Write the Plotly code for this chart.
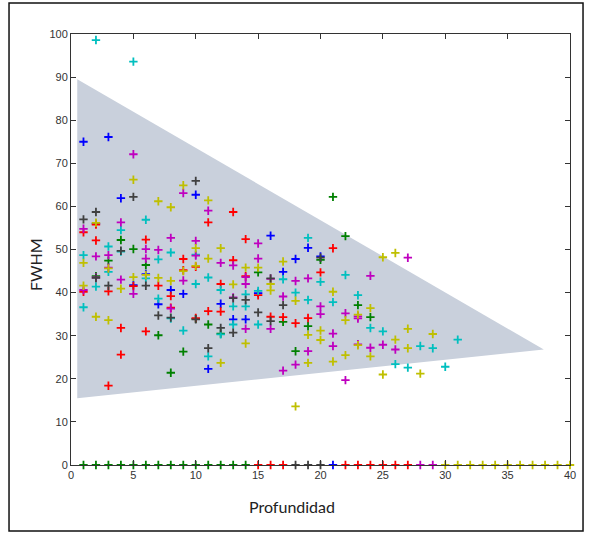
import plotly.graph_objects as go

# ---------------- data ----------------
# shaded region (Profundidad, FWHM)
region_x = [0.5, 37.9, 0.5]
region_y = [89.5, 26.8, 15.5]

blue_x = [1, 3, 2, 4, 5, 6, 7, 8, 9, 10, 11, 12, 13, 14, 15, 16, 17, 18, 19, 20]
blue_y = [75.0, 76.1, 56.0, 61.9, 41.7, 44.3, 37.3, 40.6, 39.7, 62.7, 22.3, 37.4, 33.8, 33.8, 39.9, 53.2, 44.8, 47.8, 50.4, 48.4]

green_x = [2, 3, 4, 5, 6, 7, 8, 9, 10, 11, 12, 15, 17, 18, 19, 20, 21, 22, 23, 24]
green_y = [43.8, 47.4, 52.2, 50.1, 46.4, 30.1, 21.4, 26.3, 33.9, 32.6, 30.5, 44.7, 33.2, 26.4, 32.2, 47.6, 62.2, 53.1, 37.1, 34.3]

red_x = [1, 1, 2, 2, 3, 3, 4, 4, 5, 6, 6, 7, 8, 8, 9, 9, 10, 10, 11, 11, 12, 12, 13, 13, 14, 14, 15, 16, 17, 18, 19, 20, 21]
red_y = [54.0, 40.2, 55.8, 52.1, 40.3, 18.4, 31.8, 25.6, 41.5, 52.3, 31.0, 41.6, 39.2, 36.5, 47.8, 45.2, 46.0, 34.1, 56.3, 35.7, 42.0, 35.6, 58.7, 47.5, 52.4, 43.8, 39.4, 34.4, 34.3, 32.9, 34.1, 44.7, 50.3]

cyan_x = [1, 1, 2, 2, 3, 3, 4, 4, 5, 6, 6, 7, 7, 8, 8, 9, 10, 10, 11, 11, 12, 12, 13, 13, 14, 14, 15, 15, 17, 18, 19, 19, 20, 21, 22, 23, 24, 25, 26, 27, 28, 29, 30, 31]
cyan_y = [48.7, 36.6, 98.6, 41.4, 50.7, 44.8, 54.5, 49.5, 93.6, 56.9, 43.3, 47.7, 38.6, 49.3, 34.0, 31.2, 48.8, 42.0, 43.5, 25.2, 40.6, 30.3, 36.8, 32.6, 39.6, 36.8, 40.4, 32.6, 43.1, 40.0, 52.7, 38.3, 42.5, 37.8, 44.1, 39.4, 31.8, 31.0, 23.4, 22.6, 27.6, 27.1, 22.8, 29.1]

magenta_x = [1, 1, 2, 2, 3, 3, 4, 4, 5, 5, 6, 6, 7, 8, 8, 9, 9, 10, 10, 11, 12, 13, 13, 14, 14, 14, 15, 15, 16, 16, 17, 17, 18, 18, 19, 19, 20, 20, 21, 21, 22, 22, 23, 23, 23, 24, 24, 25, 26, 27]
magenta_y = [54.8, 40.6, 48.4, 43.5, 48.7, 45.8, 56.3, 43.0, 72.1, 39.7, 50.1, 47.9, 49.9, 52.7, 36.3, 63.1, 42.8, 52.0, 48.6, 59.0, 46.9, 46.3, 38.9, 43.6, 42.0, 31.6, 51.4, 47.9, 43.2, 31.6, 39.1, 21.9, 42.7, 23.3, 43.3, 26.4, 36.8, 35.0, 30.5, 27.6, 35.2, 19.7, 34.5, 34.0, 28.0, 43.9, 27.2, 27.9, 26.8, 48.1]

olive_x = [1, 1, 2, 2, 3, 3, 4, 5, 5, 6, 7, 7, 8, 8, 9, 9, 10, 10, 11, 11, 12, 12, 13, 14, 14, 15, 16, 16, 17, 18, 18, 19, 19, 20, 20, 21, 21, 22, 22, 23, 23, 24, 24, 25, 25, 26, 26, 27, 27, 28, 29]
olive_y = [46.9, 41.6, 56.2, 34.4, 45.6, 33.6, 40.9, 66.2, 43.6, 44.1, 61.2, 43.4, 59.8, 42.7, 64.9, 45.0, 50.3, 46.2, 61.4, 47.9, 50.3, 23.7, 41.9, 45.8, 28.2, 45.8, 42.0, 40.5, 47.2, 38.1, 13.6, 30.2, 23.7, 31.2, 29.0, 40.2, 24.0, 33.6, 25.5, 34.9, 27.8, 36.4, 25.2, 48.2, 21.0, 49.2, 29.1, 31.6, 27.1, 21.2, 30.4]

black_x = [1, 2, 2, 3, 4, 5, 6, 7, 8, 10, 10, 11, 12, 13, 13, 14, 15, 16, 16, 17, 20]
black_y = [57.0, 58.7, 43.4, 41.6, 49.7, 62.2, 41.6, 34.7, 34.2, 65.9, 33.8, 27.1, 31.8, 38.7, 30.7, 38.3, 35.4, 43.3, 33.4, 37.1, 48.1]

# points lying on the x axis (FWHM = 0), grouped by colour
zero_green_x = [1, 2, 3, 4, 5, 6, 7, 8, 9, 10, 11, 12, 13, 14]
zero_red_x = [15, 16, 17, 22, 23, 24, 25, 26, 27]
zero_black_x = [18, 19, 20]
zero_blue_x = [21]
zero_magenta_x = [28, 29]
zero_yellow_x = [30, 31, 32, 33, 34, 35, 36, 37, 38, 39, 40]

x_ticks = [0, 5, 10, 15, 20, 25, 30, 35, 40]
y_ticks = [0, 10, 20, 30, 40, 50, 60, 70, 80, 90, 100]

# ---------------- figure ----------------
C = {
    "b": "#0000ff",
    "g": "#008000",
    "r": "#ff0000",
    "c": "#00bfbf",
    "m": "#bf00bf",
    "y": "#bfbf00",
    "k": "#404040",
}

fig = go.Figure()

fig.add_trace(go.Scatter(
    x=region_x, y=region_y, mode="lines", fill="toself",
    fillcolor="#c9d0dc", line=dict(width=0, color="#c9d0dc"),
    hoverinfo="skip", showlegend=False,
))


def add_pts(xs, ys, col):
    fig.add_trace(go.Scatter(
        x=xs, y=ys, mode="markers", showlegend=False, cliponaxis=False,
        marker=dict(symbol="cross-thin", size=6, color=col,
                    line=dict(width=1.8, color=col)),
    ))


add_pts(blue_x, blue_y, C["b"])
add_pts(green_x, green_y, C["g"])
add_pts(red_x, red_y, C["r"])
add_pts(cyan_x, cyan_y, C["c"])
add_pts(magenta_x, magenta_y, C["m"])
add_pts(olive_x, olive_y, C["y"])
add_pts(black_x, black_y, C["k"])

add_pts(zero_green_x, [0] * len(zero_green_x), C["g"])
add_pts(zero_red_x, [0] * len(zero_red_x), C["r"])
add_pts(zero_black_x, [0] * len(zero_black_x), C["k"])
add_pts(zero_blue_x, [0] * len(zero_blue_x), C["b"])
add_pts(zero_magenta_x, [0] * len(zero_magenta_x), C["m"])
add_pts(zero_yellow_x, [0] * len(zero_yellow_x), C["y"])

tickfont = dict(family="Liberation Sans Narrow, Liberation Sans, Arial", size=11, color="#333333")
axis_common = dict(
    showline=True, linecolor="#333333", linewidth=1, mirror="ticks",
    ticks="inside", ticklen=5, tickwidth=1, tickcolor="#333333",
    showgrid=False, zeroline=False, tickfont=tickfont, fixedrange=True,
)

fig.update_layout(
    width=590, height=533,
    margin=dict(l=71, r=20, t=34, b=68),
    paper_bgcolor="white", plot_bgcolor="white",
    xaxis=dict(range=[0, 40], tickvals=x_ticks, ticktext=[str(v) for v in x_ticks], **axis_common),
    yaxis=dict(range=[0, 100], tickvals=y_ticks, ticktext=[str(v) for v in y_ticks], **axis_common),
    shapes=[dict(type="rect", xref="paper", yref="paper",
                 x0=-0.1242, x1=1.0261, y0=-0.1531, y1=1.0719,
                 line=dict(color="#111111", width=1.5), fillcolor="rgba(0,0,0,0)", layer="below")],
    annotations=[
        dict(text="FWHM", xref="paper", yref="paper", x=-0.072, y=0.464,
             textangle=-90, showarrow=False, xanchor="center", yanchor="middle",
             font=dict(family="Lato, Open Sans, sans-serif", size=16, color="#222222")),
        dict(text="Profundidad", xref="paper", yref="paper", x=0.443, y=-0.0974,
             showarrow=False, xanchor="center", yanchor="middle",
             font=dict(family="Lato, Open Sans, sans-serif", size=16, color="#222222")),
    ],
)

fig.write_html("out.html", config={"displayModeBar": False})

# remove the browser's default page margin so the figure sits at the window origin
with open("out.html", "r", encoding="utf-8") as f:
    html = f.read()
html = html.replace("<head>", "<head><style>html,body{margin:0;padding:0;overflow:hidden;}</style>", 1)
with open("out.html", "w", encoding="utf-8") as f:
    f.write(html)
